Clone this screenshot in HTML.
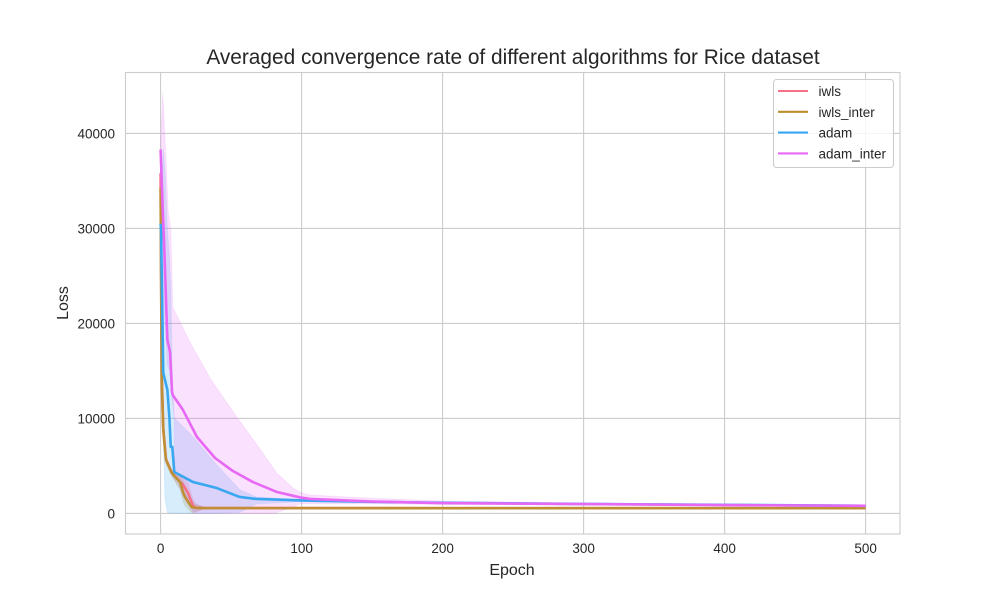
<!DOCTYPE html>
<html>
<head>
<meta charset="utf-8">
<title>Averaged convergence rate</title>
<style>
html,body{margin:0;padding:0;background:#fff;}
svg{display:block;font-family:"Liberation Sans",Arial,sans-serif;fill:#262626;}
</style>
</head>
<body>
<svg id="chart" width="1000" height="600" viewBox="0 0 1000 600" xmlns="http://www.w3.org/2000/svg">
  <rect x="0" y="0" width="1000" height="600" fill="#ffffff"/>
  <g id="grid"></g>
  <g id="marks"></g>
  <rect x="125.5" y="72.5" width="774.5" height="461.5" fill="none" stroke="#cccccc" stroke-width="1.1"/>
  <g id="ticks"></g>
  <text x="513" y="64" text-anchor="middle" font-size="20.85">Averaged convergence rate of different algorithms for Rice dataset</text>
  <text x="512" y="575" text-anchor="middle" font-size="16">Epoch</text>
  <text transform="translate(68 303) rotate(-90)" text-anchor="middle" font-size="16">Loss</text>
  <g id="legend">
    <rect x="773.5" y="79.5" width="120" height="88" rx="3" fill="#ffffff" fill-opacity="0.8" stroke="#cccccc" stroke-width="1.1"/>
  </g>
</svg>
<script>
const xTicks = [0, 100, 200, 300, 400, 500];
const yTicks = [0, 10000, 20000, 30000, 40000];
const seriesNames = ['iwls', 'iwls_inter', 'adam', 'adam_inter'];

const iwlsEpochs = [0, 0.4, 0.8, 1.9, 3.8, 7.9, 13.8, 15.5, 19.5, 23, 25, 30, 50, 100, 200, 300, 400, 500];
const iwlsMean = [35800, 25000, 14500, 8900, 5700, 4300, 3300, 3100, 2150, 800, 600, 570, 560, 560, 555, 550, 550, 550];
const iwlsLower = [35000, 24000, 14000, 8500, 5400, 4000, 2600, 1900, 900, 100, 150, 450, 530, 540, 535, 530, 530, 530];
const iwlsUpper = [36500, 26000, 15000, 9300, 6000, 4600, 4000, 4000, 3200, 1500, 1000, 690, 590, 580, 575, 570, 570, 570];

const interEpochs = [0, 0.3, 0.8, 1.9, 3.8, 7.9, 13.8, 16.1, 17.3, 22, 24.4, 30, 50, 100, 200, 300, 400, 500];
const interMean = [34300, 25600, 14050, 8780, 5620, 4250, 3300, 2150, 1730, 670, 590, 560, 555, 555, 550, 550, 550, 550];
const interLower = [33500, 24800, 13600, 8400, 5300, 3950, 2500, 1200, 800, 100, 150, 430, 530, 535, 530, 530, 530, 530];
const interUpper = [35000, 26400, 14500, 9200, 5900, 4550, 4100, 3300, 2900, 1400, 1000, 690, 580, 575, 570, 570, 570, 570];

const adamEpochs = [0, 0.3, 1.9, 3.1, 4.8, 6.2, 7.2, 8.3, 9.7, 23, 39.8, 56, 68, 106, 150, 200, 300, 400, 500];
const adamMean = [30500, 29800, 14800, 14040, 13000, 10150, 7000, 7000, 4360, 3300, 2670, 1730, 1520, 1340, 1220, 1120, 1000, 900, 800];
const adamLower = [30000, 28000, 8000, 1500, 100, 50, 30, 20, 10, 0, 0, 100, 1000, 1280, 1180, 1080, 960, 860, 760];
const adamUpper = [31000, 33000, 38500, 36000, 30000, 27000, 24000, 14000, 10040, 8040, 5100, 2500, 1720, 1400, 1270, 1160, 1040, 940, 840];

const adamInterEpochs = [0, 1.5, 2.4, 4.8, 6.7, 8.1, 8.6, 15.9, 25.8, 38.6, 51.3, 65.5, 82.6, 98.9, 106, 150, 200, 300, 400, 500];
const adamInterMean = [38300, 32000, 28800, 18250, 17000, 12780, 12460, 10880, 8040, 5830, 4460, 3300, 2250, 1680, 1520, 1250, 1080, 980, 880, 800];
const adamInterUpperEpochs = [0, 1.5, 3, 5.5, 7.2, 8.6, 20.9, 36, 54, 71, 82.3, 94, 100, 106, 150, 200, 300, 400, 500];
const adamInterUpper = [39000, 44300, 40000, 31600, 30000, 21700, 18000, 14000, 10150, 6670, 4250, 2670, 2150, 1930, 1600, 1300, 1100, 950, 840];
const adamInterLowerEpochs = [0, 2.4, 4.8, 6.7, 8.1, 9.7, 9.9, 22, 24, 80, 85, 99, 150, 200, 300, 400, 500];
const adamInterLower = [37000, 22000, 15500, 15000, 12000, 10040, 4300, 570, 0, 0, 200, 1000, 1000, 950, 900, 840, 770];

const XLEFT = 160.6, XSCALE = 1.41, YZERO = 513.4, YSCALE = 0.0095;
const xAxis = v => XLEFT + v * XSCALE;
const yAxis = v => YZERO - v * YSCALE;
const SVGNS = 'http://www.w3.org/2000/svg';

function make(tag, attrs, parent) {
  const el = document.createElementNS(SVGNS, tag);
  for (const k in attrs) el.setAttribute(k, attrs[k]);
  parent.appendChild(el);
  return el;
}

const gridG = document.getElementById('grid');
const ticksG = document.getElementById('ticks');
xTicks.forEach(t => {
  const line = make('line', {x1: xAxis(t), x2: xAxis(t), y1: 72.5, y2: 534, stroke: '#cccccc', 'stroke-width': 1.1}, gridG);
  
  
  const label = make('text', {x: xAxis(t), y: 553, 'text-anchor': 'middle', 'font-size': 13.5}, ticksG);
  label.textContent = String(t);
  
  
});
yTicks.forEach(t => {
  const line = make('line', {x1: 125.5, x2: 900, y1: yAxis(t), y2: yAxis(t), stroke: '#cccccc', 'stroke-width': 1.1}, gridG);
  
  
  const label = make('text', {x: 115, y: yAxis(t) + 5, 'text-anchor': 'end', 'font-size': 13.5}, ticksG);
  label.textContent = String(t);
  
  
});

const meanEpochs = [iwlsEpochs, interEpochs, adamEpochs, adamInterEpochs];
const upperEpochs = [iwlsEpochs, interEpochs, adamEpochs, adamInterUpperEpochs];
const lowerEpochs = [iwlsEpochs, interEpochs, adamEpochs, adamInterLowerEpochs];
const seriesMeans = [iwlsMean, interMean, adamMean, adamInterMean];
const seriesLowers = [iwlsLower, interLower, adamLower, adamInterLower];
const seriesUppers = [iwlsUpper, interUpper, adamUpper, adamInterUpper];
const seriesColors = ['#f6708a', '#b98e2d', '#39a7f0', '#e668f4'];
const lineColors = ['#f6708a', '#c08f35', '#39a7f0', '#e668f4'];

const marksG = document.getElementById('marks');
const legendG = document.getElementById('legend');
const toPts = (xs, ys) => xs.map((x, i) => xAxis(x).toFixed(2) + ',' + yAxis(ys[i]).toFixed(2));

seriesNames.forEach((name, i) => {
  const up = toPts(upperEpochs[i], seriesUppers[i]);
  const low = toPts(lowerEpochs[i], seriesLowers[i]).reverse();
  const band = make('polygon', {points: up.concat(low).join(' '), fill: seriesColors[i], 'fill-opacity': 0.2, stroke: seriesColors[i], 'stroke-opacity': 0.12, 'stroke-width': 1}, marksG);
  
  
});
seriesNames.forEach((name, i) => {
  const line = make('polyline', {points: toPts(meanEpochs[i], seriesMeans[i]).join(' '), fill: 'none', stroke: lineColors[i], 'stroke-width': 2.6, 'stroke-linejoin': 'round'}, marksG);
  
  

  const rowY = 91 + i * 20.8;
  const key = make('line', {x1: 778, x2: 808, y1: rowY, y2: rowY, stroke: seriesColors[i], 'stroke-width': 2.08}, legendG);
  
  
  const label = make('text', {x: 818.5, y: rowY + 5, 'font-size': 13.5}, legendG);
  label.textContent = name;
  
  
});
</script>
</body>
</html>
